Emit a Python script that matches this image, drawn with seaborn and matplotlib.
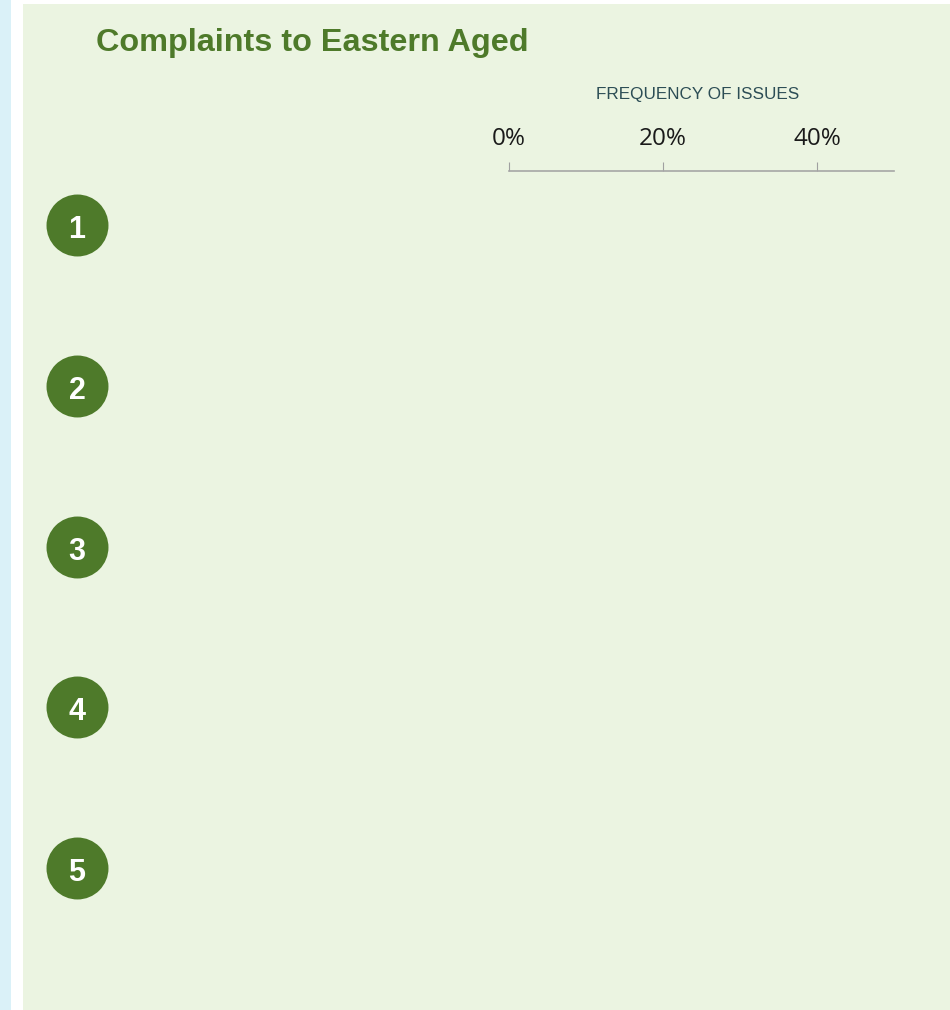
import matplotlib
matplotlib.use("Agg")
import matplotlib.pyplot as plt
from matplotlib.patches import Rectangle
from matplotlib.transforms import blended_transform_factory, offset_copy
import seaborn as sns
import pandas as pd

# ---- data (no bars are visible in the reference: all values read as 0) ----
categories = ["1", "2", "3", "4", "5"]
frequency = [0, 0, 0, 0, 0]
tick_values = [0, 20, 40]
tick_labels = ["0%", "20%", "40%"]

title = "Complaints to Eastern Aged"
axis_title = "FREQUENCY OF ISSUES"

GREEN = "#4e7a2a"
PANEL = "#ebf4e1"
STRIP = "#daf1f8"

sns.set_theme(style="white")
plt.rcParams["font.family"] = ["Liberation Sans", "DejaVu Sans"]

W, H = 950, 1010
fig = plt.figure(figsize=(W / 100, H / 100), dpi=100)
fig.patch.set_facecolor("white")

def px(x0, y0, x1, y1):
    return (x0 / W, 1 - y1 / H, (x1 - x0) / W, (y1 - y0) / H)

l, b, w, h = px(0, 0, 11, H)
fig.patches.append(Rectangle((l, b), w, h, transform=fig.transFigure,
                             facecolor=STRIP, edgecolor="none", zorder=-10))
l, b, w, h = px(23, 4, W, H)
fig.patches.append(Rectangle((l, b), w, h, transform=fig.transFigure,
                             facecolor=PANEL, edgecolor="none", zorder=-10))

ax = fig.add_axes(px(509, 171, 894, 1000))
ax.set_facecolor("none")

df = pd.DataFrame({"category": categories, "frequency": frequency})
sns.barplot(data=df, x="frequency", y="category", orient="h", ax=ax,
            color=GREEN, linewidth=0, width=0.5)

ax.set_xlim(0, 50)
ax.set_ylim(4.821, -0.336)

ax.xaxis.tick_top()
ax.set_xticks(tick_values)
ax.set_xticklabels(tick_labels, fontfamily="Open Sans", fontsize=17.5, color="#1a1a1a")
ax.tick_params(axis="x", direction="out", length=6.5, width=0.8, color="#a0a0a0",
               pad=8, top=True, bottom=False)
ax.set_yticks([])
ax.set_xlabel("")
ax.set_ylabel("")
for side in ["left", "right", "bottom"]:
    ax.spines[side].set_visible(False)
ax.spines["top"].set_color("#a6a6a6")
ax.spines["top"].set_linewidth(1.2)

# numbered circles at each category position
trans = blended_transform_factory(fig.transFigure, ax.transData)
ypos = list(range(len(categories)))
ax.scatter([77 / W] * len(categories), ypos, s=1990, color=GREEN,
           transform=trans, clip_on=False, zorder=5, linewidths=0)
ttrans = offset_copy(trans, fig=fig, x=0, y=-1.5, units="dots")
for yv, cat in zip(ypos, categories):
    ax.text(77 / W, yv, cat, transform=ttrans, ha="center", va="center_baseline",
            color="white", fontsize=22, fontweight="bold", zorder=6,
            clip_on=False)

fig.text(96 / W, 1 - 43 / H, title, ha="left", va="center",
         fontsize=23.3, fontweight="bold", color=GREEN)
fig.text(698 / W, 1 - 94 / H, axis_title, ha="center", va="center",
         fontsize=12.3, color="#2c4d55")

fig.savefig("out.png", dpi=100, facecolor=fig.get_facecolor())
